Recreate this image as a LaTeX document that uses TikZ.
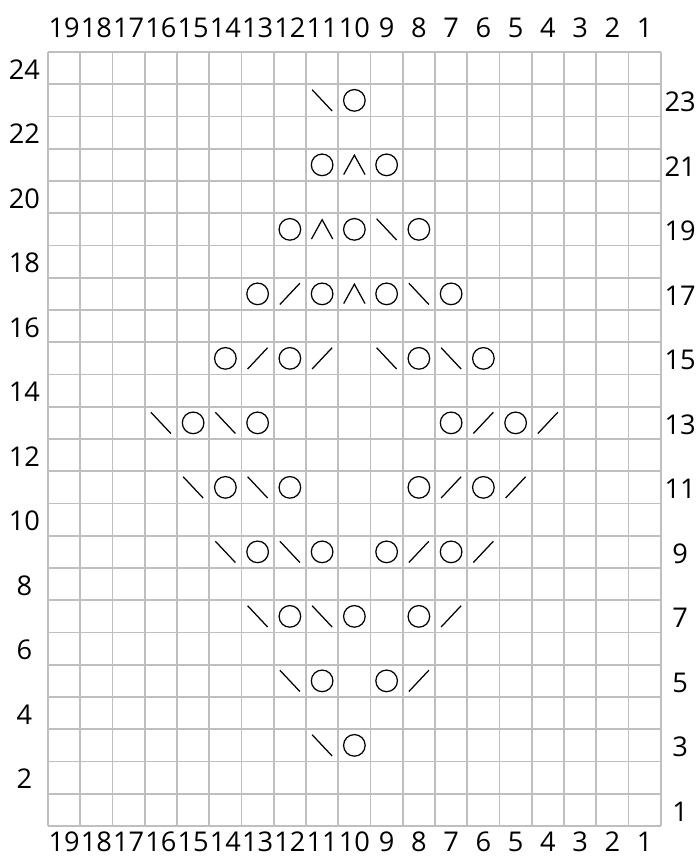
\documentclass[tikz,border=0pt]{standalone}
\usepackage{fontspec}
\setmainfont{Open Sans}
\usepackage{tikz}
\usetikzlibrary{positioning}

\tikzset{
  gridline/.style={line width=1.4pt, draw=gray!50},
  stitch/.style={line width=1.1pt, black},
  num/.style={font=\fontsize{24}{28}\selectfont, inner sep=0pt},
  yo/.pic={\draw[stitch] (0,0) circle (0.335);},
  ssk/.pic={\draw[stitch] (-0.31,0.33) -- (0.31,-0.33);},
  ktog/.pic={\draw[stitch] (-0.31,-0.33) -- (0.31,0.33);},
  cdd/.pic={\draw[stitch] (-0.33,-0.3) -- (0,0.3) -- (0.33,-0.3);}
}

\begin{document}
\begin{tikzpicture}[x=1cm, y=1cm]
  \useasboundingbox (-1.488,-1.085) rectangle (20.155,25.612);

  % chart grid
  \draw[gridline] (0,0) grid (19,24);

  % column numbers
  \foreach \c in {1,...,19} {
    \node[num] (top\c) at ({19-\c+0.5},24.74) {\c};
    \node[num] (bot\c) at ({19-\c+0.5},-0.48) {\c};
  }
  % row numbers, even left and odd right
  \foreach \r in {2,4,...,24}
    \node[num] (left\r) at (-0.73,{\r-0.54}) {\r};
  \foreach \r in {1,3,...,23}
    \node[num] (right\r) at (19.6,{\r-0.55}) {\r};

  % yarn overs
  \foreach \c/\r in {10/23, 11/21, 9/21, 12/19, 10/19, 8/19,
      13/17, 11/17, 9/17, 7/17, 14/15, 12/15, 8/15, 6/15,
      15/13, 13/13, 7/13, 5/13, 14/11, 12/11, 8/11, 6/11,
      13/9, 11/9, 9/9, 7/9, 12/7, 10/7, 8/7, 11/5, 9/5, 10/3}
    \pic at ({19-\c+0.5},{\r-0.5}) {yo};
  % left leaning decreases
  \foreach \c/\r in {11/23, 9/19, 8/17, 9/15, 7/15, 16/13, 14/13,
      15/11, 13/11, 14/9, 12/9, 13/7, 11/7, 12/5, 11/3}
    \pic at ({19-\c+0.5},{\r-0.5}) {ssk};
  % right leaning decreases
  \foreach \c/\r in {12/17, 13/15, 11/15, 6/13, 4/13, 7/11, 5/11,
      8/9, 6/9, 7/7, 8/5}
    \pic at ({19-\c+0.5},{\r-0.5}) {ktog};
  % centred double decreases
  \foreach \c/\r in {10/21, 11/19, 10/17}
    \pic at ({19-\c+0.5},{\r-0.5}) {cdd};
\end{tikzpicture}
\end{document}
